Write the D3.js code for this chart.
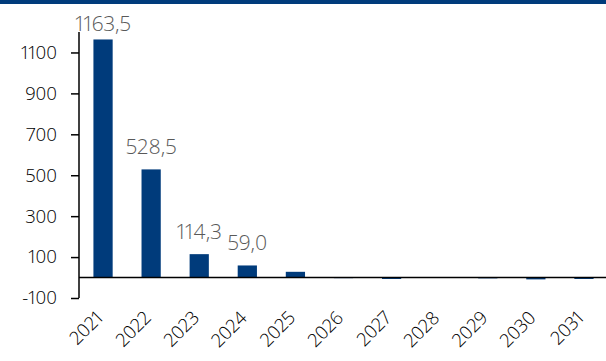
<!DOCTYPE html>
<html>
<head>
<meta charset="utf-8">
<script src="https://cdn.jsdelivr.net/npm/d3@7"></script>
<style>
  html, body { margin: 0; padding: 0; background: #fff; }
  svg { display: block; }
  .tick text, .value-label { font-family: "Open Sans", sans-serif; font-weight: 300; font-variant-numeric: proportional-nums; }
</style>
</head>
<body>
<script>
// Annual values, 2021–2031
const years = ["2021", "2022", "2023", "2024", "2025", "2026", "2027", "2028", "2029", "2030", "2031"];
const values = [1163.5, 528.5, 114.3, 59.0, 28, -3, -7, -2, -4, -9, -7];
// Values that carry a printed label (comma decimal)
const labelled = ["1163,5", "528,5", "114,3", "59,0", null, null, null, null, null, null, null];
const yTicks = [-100, 100, 300, 500, 700, 900, 1100];

const W = 606, H = 361;
const barColor = "#003b7b";

const svg = d3.select("body").append("svg").attr("width", W).attr("height", H);

// Top rule
svg.append("rect").attr("x", 0).attr("y", 0).attr("width", W).attr("height", 4).attr("fill", barColor);

const x = d3.scaleBand().domain(years).range([79, 608]).paddingInner(0.6).paddingOuter(0.3);
const y = d3.scaleLinear().domain([-100, 1200]).range([298, 32]);

// Bars
svg.append("g").selectAll("rect").data(years).join("rect")
  .attr("x", d => x(d))
  .attr("width", x.bandwidth())
  .attr("y", (d, i) => y(Math.max(0, values[i])))
  .attr("height", (d, i) => Math.abs(y(values[i]) - y(0)))
  .attr("fill", barColor);

// Zero baseline
svg.append("line")
  .attr("x1", 79).attr("x2", W).attr("y1", y(0)).attr("y2", y(0))
  .attr("stroke", "#000").attr("stroke-width", 1.5);

// Y axis (plain hyphen for negatives)
const yAxis = svg.append("g").attr("transform", "translate(79,0)")
  .call(d3.axisLeft(y).tickValues(yTicks).tickFormat(d => String(d)).tickSize(8).tickPadding(14));
yAxis.select(".domain").attr("stroke", "#000").attr("stroke-width", 1.5).attr("d", `M0,${y(1200)}V${y(-100)}`);
yAxis.selectAll(".tick line").attr("stroke", "#000").attr("stroke-width", 1.5);
yAxis.selectAll(".tick text").attr("font-size", 18.5).attr("fill", "#000");

// Year labels, rotated below the plot
const xAxis = svg.append("g").attr("transform", `translate(0,${y(-100)})`)
  .call(d3.axisBottom(x).tickSize(0).tickPadding(0));
xAxis.select(".domain").remove();
xAxis.selectAll(".tick text")
  .attr("font-size", 18.5).attr("fill", "#000")
  .attr("text-anchor", "end")
  .attr("x", 0).attr("y", 0).attr("dy", 0)
  .attr("transform", "translate(1,21) rotate(-45)");

// Value labels above the bars, kept inside the plot
svg.append("g").selectAll("text").data(years.filter((d, i) => labelled[i])).join("text")
  .attr("class", "value-label")
  .attr("x", d => x(d) + x.bandwidth() / 2)
  .attr("y", d => Math.max(y(values[years.indexOf(d)]) - 15, 31))
  .attr("text-anchor", "middle")
  .attr("font-size", 21)
  .attr("fill", "#595959")
  .text(d => labelled[years.indexOf(d)]);
</script>
</body>
</html>
